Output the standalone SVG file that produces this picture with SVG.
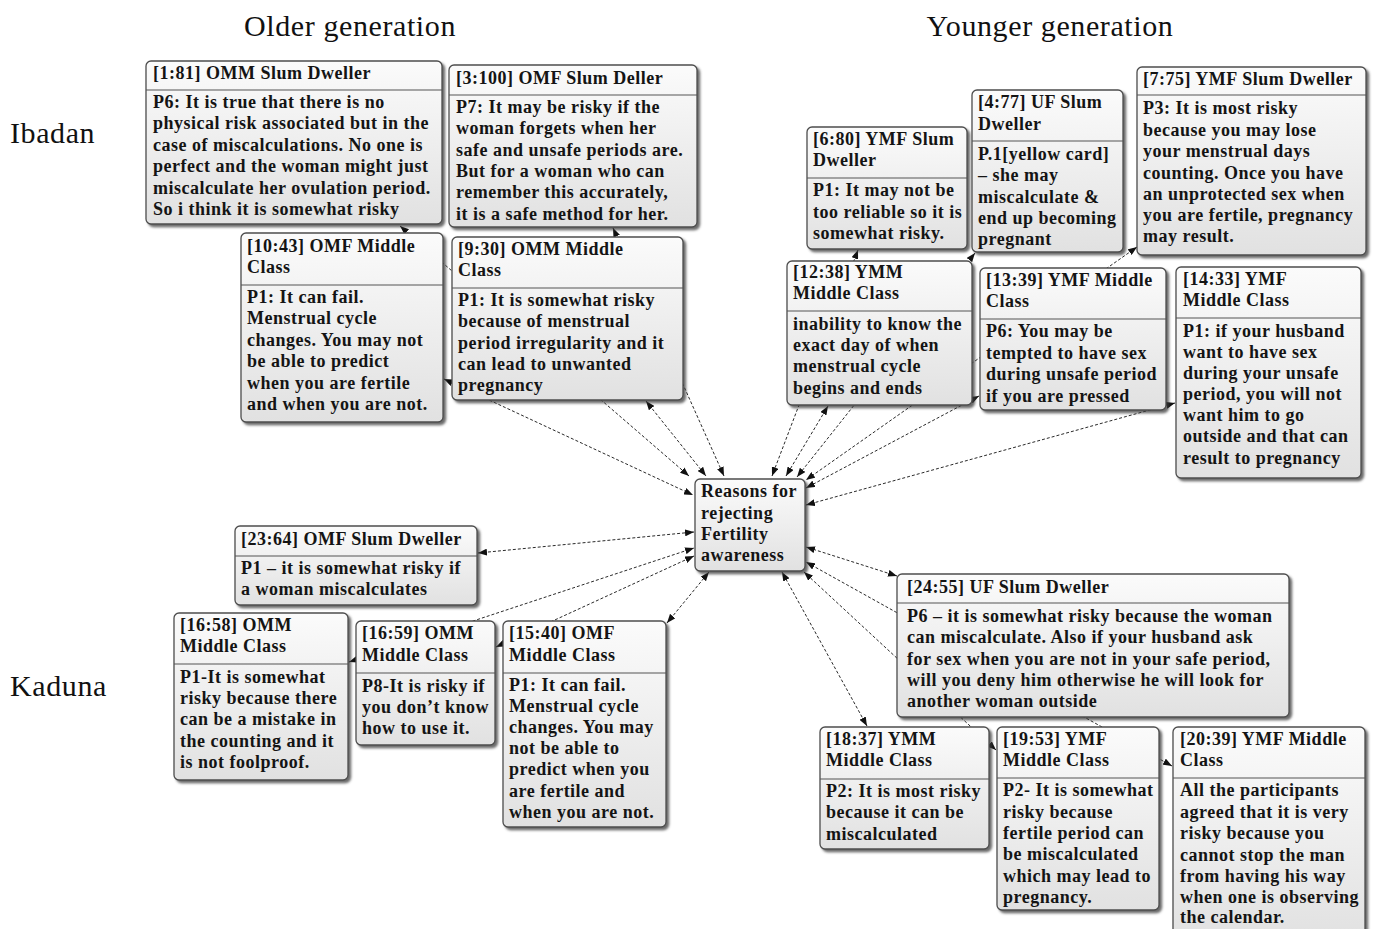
<svg xmlns="http://www.w3.org/2000/svg" width="1373" height="929" viewBox="0 0 1373 929">
<defs>
  <linearGradient id="boxFill" x1="0" y1="0" x2="0" y2="1">
    <stop offset="0" stop-color="#fbfbfb"/>
    <stop offset="1" stop-color="#e1e1e1"/>
  </linearGradient>
  <filter id="shadow" x="-5%" y="-5%" width="115%" height="115%">
    <feDropShadow dx="2.5" dy="2.5" stdDeviation="1.2" flood-color="#3a3a3a" flood-opacity="0.75"/>
  </filter>
  <marker id="arrow" viewBox="0 0 9 7" refX="9" refY="3.5" markerWidth="9" markerHeight="7" markerUnits="userSpaceOnUse" orient="auto-start-reverse">
    <path d="M0,0 L9,3.5 L0,7 z" fill="#111"/>
  </marker>
</defs>
<style>
  .box{fill:url(#boxFill);stroke:#4d4d4d;stroke-width:1.3;filter:url(#shadow)}
  .div{stroke:#555;stroke-width:1.2}
  .t{font-family:"Liberation Serif","Times New Roman",serif;font-size:18px;font-weight:bold;letter-spacing:0.5px;fill:#141414}
  .lbl{font-family:"Liberation Serif","Times New Roman",serif;font-size:30px;letter-spacing:0.6px;fill:#111}
  .link{fill:none;stroke:#2a2a2a;stroke-width:1;stroke-dasharray:3 2;marker-start:url(#arrow);marker-end:url(#arrow)}
</style>
<rect width="1373" height="929" fill="#fff"/>

<!-- row / column labels -->
<g id="labels">
  <text class="lbl" x="350" y="36" text-anchor="middle">Older generation</text>
  <text class="lbl" x="1050" y="36" text-anchor="middle">Younger generation</text>
  <text class="lbl" x="10" y="143">Ibadan</text>
  <text class="lbl" x="10" y="696">Kaduna</text>
</g>

<!-- links between each quotation and the central code -->
<g id="connectors">
  <line class="link" x1="400" y1="226" x2="689" y2="476"/>
  <line class="link" x1="444" y1="379" x2="693" y2="495"/>
  <line class="link" x1="646" y1="401" x2="706" y2="476"/>
  <line class="link" x1="613" y1="228" x2="724" y2="476"/>
  <line class="link" x1="858" y1="250" x2="772" y2="476"/>
  <line class="link" x1="828" y1="406" x2="786" y2="476"/>
  <line class="link" x1="975" y1="253" x2="797" y2="477"/>
  <line class="link" x1="1137" y1="247" x2="806" y2="480"/>
  <line class="link" x1="979" y1="396" x2="806" y2="488"/>
  <line class="link" x1="1175" y1="403" x2="806" y2="505"/>
  <line class="link" x1="478" y1="553" x2="694" y2="532"/>
  <line class="link" x1="349" y1="662" x2="694" y2="548"/>
  <line class="link" x1="496" y1="647" x2="694" y2="556"/>
  <line class="link" x1="667" y1="623" x2="709" y2="572"/>
  <line class="link" x1="867" y1="726" x2="782" y2="572"/>
  <line class="link" x1="996" y1="750" x2="804" y2="572"/>
  <line class="link" x1="1172" y1="766" x2="806" y2="562"/>
  <line class="link" x1="897" y1="576" x2="806" y2="547"/>
</g>

<g id="q-1-81">
  <rect class="box" x="146" y="61" width="296" height="163" rx="5"/>
  <line class="div" x1="146" y1="90" x2="442" y2="90"/>
  <text class="t" x="153" y="79">[1:81] OMM Slum Dweller</text>
  <text class="t">
    <tspan x="153" y="108">P6: It is true that there is no</tspan>
    <tspan x="153" y="129">physical risk associated but in the</tspan>
    <tspan x="153" y="151">case of miscalculations. No one is</tspan>
    <tspan x="153" y="172">perfect and the woman might just</tspan>
    <tspan x="153" y="194">miscalculate her ovulation period.</tspan>
    <tspan x="153" y="215">So i think it is somewhat risky</tspan>
  </text>
</g>

<g id="q-3-100">
  <rect class="box" x="449" y="65" width="248" height="162" rx="5"/>
  <line class="div" x1="449" y1="95" x2="697" y2="95"/>
  <text class="t" x="456" y="84">[3:100] OMF Slum Deller</text>
  <text class="t">
    <tspan x="456" y="113">P7: It may be risky if the</tspan>
    <tspan x="456" y="134">woman forgets when her</tspan>
    <tspan x="456" y="156">safe and unsafe periods are.</tspan>
    <tspan x="456" y="177">But for a woman who can</tspan>
    <tspan x="456" y="198">remember this accurately,</tspan>
    <tspan x="456" y="220">it is a safe method for her.</tspan>
  </text>
</g>

<g id="q-10-43">
  <rect class="box" x="241" y="233" width="202" height="189" rx="5"/>
  <line class="div" x1="241" y1="285" x2="443" y2="285"/>
  <text class="t">
    <tspan x="247" y="252">[10:43] OMF Middle</tspan>
    <tspan x="247" y="273">Class</tspan>
  </text>
  <text class="t">
    <tspan x="247" y="303">P1: It can fail.</tspan>
    <tspan x="247" y="324">Menstrual cycle</tspan>
    <tspan x="247" y="346">changes. You may not</tspan>
    <tspan x="247" y="367">be able to predict</tspan>
    <tspan x="247" y="389">when you are fertile</tspan>
    <tspan x="247" y="410">and when you are not.</tspan>
  </text>
</g>

<g id="q-9-30">
  <rect class="box" x="452" y="237" width="231" height="163" rx="5"/>
  <line class="div" x1="452" y1="288" x2="683" y2="288"/>
  <text class="t">
    <tspan x="458" y="255">[9:30] OMM Middle</tspan>
    <tspan x="458" y="276">Class</tspan>
  </text>
  <text class="t">
    <tspan x="458" y="306">P1: It is somewhat risky</tspan>
    <tspan x="458" y="327">because of menstrual</tspan>
    <tspan x="458" y="349">period irregularity and it</tspan>
    <tspan x="458" y="370">can lead to unwanted</tspan>
    <tspan x="458" y="391">pregnancy</tspan>
  </text>
</g>

<g id="q-6-80">
  <rect class="box" x="807" y="127" width="160" height="122" rx="5"/>
  <line class="div" x1="807" y1="178" x2="967" y2="178"/>
  <text class="t">
    <tspan x="813" y="145">[6:80] YMF Slum</tspan>
    <tspan x="813" y="166">Dweller</tspan>
  </text>
  <text class="t">
    <tspan x="813" y="196">P1: It may not be</tspan>
    <tspan x="813" y="218">too reliable so it is</tspan>
    <tspan x="813" y="239">somewhat risky.</tspan>
  </text>
</g>

<g id="q-4-77">
  <rect class="box" x="972" y="90" width="151" height="162" rx="5"/>
  <line class="div" x1="972" y1="141" x2="1123" y2="141"/>
  <text class="t">
    <tspan x="978" y="108">[4:77] UF Slum</tspan>
    <tspan x="978" y="130">Dweller</tspan>
  </text>
  <text class="t">
    <tspan x="978" y="160">P.1[yellow card]</tspan>
    <tspan x="978" y="181">– she may</tspan>
    <tspan x="978" y="203">miscalculate &amp;</tspan>
    <tspan x="978" y="224">end up becoming</tspan>
    <tspan x="978" y="245">pregnant</tspan>
  </text>
</g>

<g id="q-7-75">
  <rect class="box" x="1137" y="67" width="229" height="188" rx="5"/>
  <line class="div" x1="1137" y1="95" x2="1366" y2="95"/>
  <text class="t" x="1143" y="85">[7:75] YMF Slum Dweller</text>
  <text class="t">
    <tspan x="1143" y="114">P3: It is most risky</tspan>
    <tspan x="1143" y="136">because you may lose</tspan>
    <tspan x="1143" y="157">your menstrual days</tspan>
    <tspan x="1143" y="179">counting. Once you have</tspan>
    <tspan x="1143" y="200">an unprotected sex when</tspan>
    <tspan x="1143" y="221">you are fertile, pregnancy</tspan>
    <tspan x="1143" y="242">may result.</tspan>
  </text>
</g>

<g id="q-12-38">
  <rect class="box" x="787" y="261" width="185" height="144" rx="5"/>
  <line class="div" x1="787" y1="311" x2="972" y2="311"/>
  <text class="t">
    <tspan x="793" y="278">[12:38] YMM</tspan>
    <tspan x="793" y="299">Middle Class</tspan>
  </text>
  <text class="t">
    <tspan x="793" y="330">inability to know the</tspan>
    <tspan x="793" y="351">exact day of when</tspan>
    <tspan x="793" y="372">menstrual cycle</tspan>
    <tspan x="793" y="394">begins and ends</tspan>
  </text>
</g>

<g id="q-13-39">
  <rect class="box" x="980" y="268" width="186" height="142" rx="5"/>
  <line class="div" x1="980" y1="319" x2="1166" y2="319"/>
  <text class="t">
    <tspan x="986" y="286">[13:39] YMF Middle</tspan>
    <tspan x="986" y="307">Class</tspan>
  </text>
  <text class="t">
    <tspan x="986" y="337">P6: You may be</tspan>
    <tspan x="986" y="359">tempted to have sex</tspan>
    <tspan x="986" y="380">during unsafe period</tspan>
    <tspan x="986" y="402">if you are pressed</tspan>
  </text>
</g>

<g id="q-14-33">
  <rect class="box" x="1176" y="267" width="185" height="211" rx="5"/>
  <line class="div" x1="1176" y1="318" x2="1361" y2="318"/>
  <text class="t">
    <tspan x="1183" y="285">[14:33] YMF</tspan>
    <tspan x="1183" y="306">Middle Class</tspan>
  </text>
  <text class="t">
    <tspan x="1183" y="337">P1: if your husband</tspan>
    <tspan x="1183" y="358">want to have sex</tspan>
    <tspan x="1183" y="379">during your unsafe</tspan>
    <tspan x="1183" y="400">period, you will not</tspan>
    <tspan x="1183" y="421">want him to go</tspan>
    <tspan x="1183" y="442">outside and that can</tspan>
    <tspan x="1183" y="464">result to pregnancy</tspan>
  </text>
</g>

<g id="code-reasons">
  <rect class="box" x="695" y="479" width="110" height="92" rx="5"/>
  <text class="t">
    <tspan x="701" y="497">Reasons for</tspan>
    <tspan x="701" y="519">rejecting</tspan>
    <tspan x="701" y="540">Fertility</tspan>
    <tspan x="701" y="561">awareness</tspan>
  </text>
</g>

<g id="q-23-64">
  <rect class="box" x="235" y="526" width="242" height="79" rx="5"/>
  <line class="div" x1="235" y1="556" x2="477" y2="556"/>
  <text class="t" x="241" y="545">[23:64] OMF Slum Dweller</text>
  <text class="t">
    <tspan x="241" y="574">P1 – it is somewhat risky if</tspan>
    <tspan x="241" y="595">a woman miscalculates</tspan>
  </text>
</g>

<g id="q-16-58">
  <rect class="box" x="174" y="613" width="174" height="167" rx="5"/>
  <line class="div" x1="174" y1="664" x2="348" y2="664"/>
  <text class="t">
    <tspan x="180" y="631">[16:58] OMM</tspan>
    <tspan x="180" y="652">Middle Class</tspan>
  </text>
  <text class="t">
    <tspan x="180" y="683">P1-It is somewhat</tspan>
    <tspan x="180" y="704">risky because there</tspan>
    <tspan x="180" y="725">can be a mistake in</tspan>
    <tspan x="180" y="747">the counting and it</tspan>
    <tspan x="180" y="768">is not foolproof.</tspan>
  </text>
</g>

<g id="q-16-59">
  <rect class="box" x="356" y="621" width="139" height="124" rx="5"/>
  <line class="div" x1="356" y1="673" x2="495" y2="673"/>
  <text class="t">
    <tspan x="362" y="639">[16:59] OMM</tspan>
    <tspan x="362" y="661">Middle Class</tspan>
  </text>
  <text class="t">
    <tspan x="362" y="692">P8-It is risky if</tspan>
    <tspan x="362" y="713">you don’t know</tspan>
    <tspan x="362" y="734">how to use it.</tspan>
  </text>
</g>

<g id="q-15-40">
  <rect class="box" x="503" y="621" width="163" height="206" rx="5"/>
  <line class="div" x1="503" y1="673" x2="666" y2="673"/>
  <text class="t">
    <tspan x="509" y="639">[15:40] OMF</tspan>
    <tspan x="509" y="661">Middle Class</tspan>
  </text>
  <text class="t">
    <tspan x="509" y="691">P1: It can fail.</tspan>
    <tspan x="509" y="712">Menstrual cycle</tspan>
    <tspan x="509" y="733">changes. You may</tspan>
    <tspan x="509" y="754">not be able to</tspan>
    <tspan x="509" y="775">predict when you</tspan>
    <tspan x="509" y="797">are fertile and</tspan>
    <tspan x="509" y="818">when you are not.</tspan>
  </text>
</g>

<g id="q-24-55">
  <rect class="box" x="897" y="574" width="392" height="143" rx="5"/>
  <line class="div" x1="897" y1="603" x2="1289" y2="603"/>
  <text class="t" x="907" y="593">[24:55] UF Slum Dweller</text>
  <text class="t">
    <tspan x="907" y="622">P6 – it is somewhat risky because the woman</tspan>
    <tspan x="907" y="643">can miscalculate. Also if your husband ask</tspan>
    <tspan x="907" y="665">for sex when you are not in your safe period,</tspan>
    <tspan x="907" y="686">will you deny him otherwise he will look for</tspan>
    <tspan x="907" y="707">another woman outside</tspan>
  </text>
</g>

<g id="q-18-37">
  <rect class="box" x="820" y="727" width="169" height="122" rx="5"/>
  <line class="div" x1="820" y1="779" x2="989" y2="779"/>
  <text class="t">
    <tspan x="826" y="745">[18:37] YMM</tspan>
    <tspan x="826" y="766">Middle Class</tspan>
  </text>
  <text class="t">
    <tspan x="826" y="797">P2: It is most risky</tspan>
    <tspan x="826" y="818">because it can be</tspan>
    <tspan x="826" y="840">miscalculated</tspan>
  </text>
</g>

<g id="q-19-53">
  <rect class="box" x="997" y="727" width="162" height="183" rx="5"/>
  <line class="div" x1="997" y1="778" x2="1159" y2="778"/>
  <text class="t">
    <tspan x="1003" y="745">[19:53] YMF</tspan>
    <tspan x="1003" y="766">Middle Class</tspan>
  </text>
  <text class="t">
    <tspan x="1003" y="796">P2- It is somewhat</tspan>
    <tspan x="1003" y="818">risky because</tspan>
    <tspan x="1003" y="839">fertile period can</tspan>
    <tspan x="1003" y="860">be miscalculated</tspan>
    <tspan x="1003" y="882">which may lead to</tspan>
    <tspan x="1003" y="903">pregnancy.</tspan>
  </text>
</g>

<g id="q-20-39">
  <rect class="box" x="1173" y="727" width="192" height="215" rx="5"/>
  <line class="div" x1="1173" y1="778" x2="1365" y2="778"/>
  <text class="t">
    <tspan x="1180" y="745">[20:39] YMF Middle</tspan>
    <tspan x="1180" y="766">Class</tspan>
  </text>
  <text class="t">
    <tspan x="1180" y="796">All the participants</tspan>
    <tspan x="1180" y="818">agreed that it is very</tspan>
    <tspan x="1180" y="839">risky because you</tspan>
    <tspan x="1180" y="861">cannot stop the man</tspan>
    <tspan x="1180" y="882">from having his way</tspan>
    <tspan x="1180" y="903">when one is observing</tspan>
    <tspan x="1180" y="923">the calendar.</tspan>
  </text>
</g>
</svg>
